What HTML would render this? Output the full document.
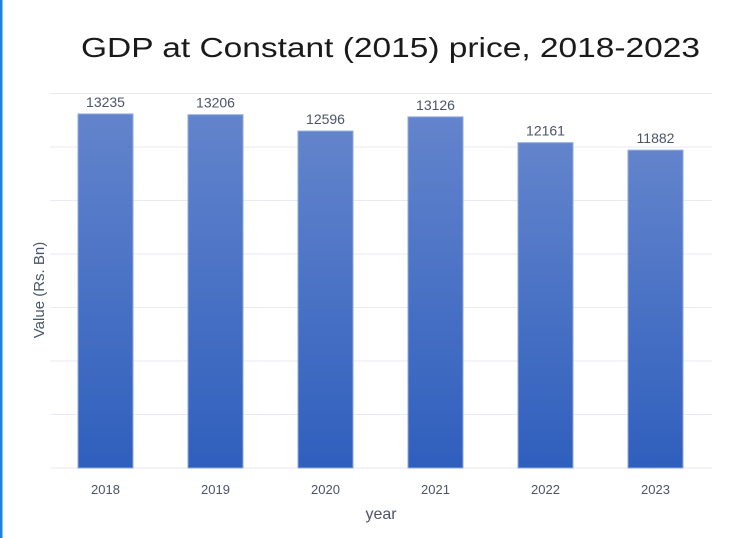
<!DOCTYPE html>
<html><head><meta charset="utf-8"><style>
html,body{margin:0;padding:0;background:#fff;}
svg{display:block;font-family:"Liberation Sans",sans-serif;}
</style></head><body>
<svg width="750" height="538">
<defs><linearGradient id="g" x1="0" y1="0" x2="0" y2="1"><stop offset="0" stop-color="#6384cc"/><stop offset="1" stop-color="#2f5fbd"/></linearGradient></defs>
<rect x="0" y="0" width="2.5" height="538" fill="#1f7fe0"/>
<text x="81" y="57" textLength="619" lengthAdjust="spacingAndGlyphs" font-size="28" fill="#1a1a1a">GDP at Constant (2015) price, 2018-2023</text>
<g id="grid"></g><g id="bars"></g>
<text transform="translate(44,290) rotate(-90)" text-anchor="middle" font-size="15" fill="#4a5568">Value (Rs. Bn)</text>
<text x="381" y="519" text-anchor="middle" font-size="16" fill="#4a5568">year</text>
</svg>
<script>
const categories=["2018","2019","2020","2021","2022","2023"];
const values=[13235,13206,12596,13126,12161,11882];
const yTicks=[0,2000,4000,6000,8000,10000,12000,14000];
const NS="http://www.w3.org/2000/svg";
const x0=50,x1=712,yb=468,yt=93.5,ymax=14000;
const y=v=>yb-(v/ymax)*(yb-yt);
const xc=i=>105.5+i*110;
const grid=document.getElementById('grid'),bars=document.getElementById('bars');
function mk(t,a){const e=document.createElementNS(NS,t);for(const k in a)e.setAttribute(k,a[k]);return e;}
yTicks.forEach(t=>{const l=mk('line',{x1:x0,x2:x1,y1:y(t),y2:y(t),stroke:'#e8eaf0','stroke-width':1});


grid.appendChild(l);});
categories.forEach((c,i)=>{const v=values[i];
const r=mk('rect',{x:xc(i)-27.5,y:y(v),width:55,height:yb-y(v),fill:'url(#g)',stroke:'#8fa8e0','stroke-width':1});


bars.appendChild(r);
const t=mk('text',{x:xc(i),y:y(v)-7,'text-anchor':'middle','font-size':14,fill:'#4a5568'});t.textContent=v;


bars.appendChild(t);
const tl=mk('text',{x:xc(i),y:494,'text-anchor':'middle','font-size':13,fill:'#4a5568'});tl.textContent=c;


bars.appendChild(tl);});
</script>
</body></html>
